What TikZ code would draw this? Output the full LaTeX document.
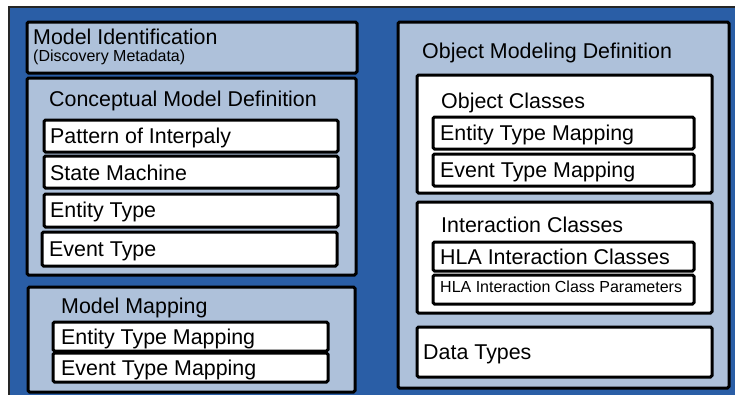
\documentclass[tikz,border=0pt]{standalone}
\usepackage{fontspec}
\setmainfont{Liberation Sans}
\definecolor{deepblue}{RGB}{42,94,166}
\definecolor{paleblue}{RGB}{174,193,218}
\begin{document}
\begin{tikzpicture}[x=1pt,y=-1pt,
  frame/.style={draw=black!85, line width=2pt, fill=deepblue},
  panel/.style={draw=black, line width=3pt, fill=paleblue, rounded corners=1.5pt},
  card/.style={draw=black, line width=3pt, fill=white, rounded corners=1.5pt},
  lbl/.style={anchor=base west, inner sep=0pt, yshift=1pt, font=\fontsize{21.4}{24}\selectfont},
  small/.style={anchor=base west, inner sep=0pt, yshift=1pt, font=\fontsize{16}{18}\selectfont}]
\useasboundingbox (0,0) rectangle (735,394);
\clip (0,0) rectangle (735,394);
\fill[white] (0,0) rectangle (735,394);
% outer frame, running off the right and bottom edges
\draw[frame] (9,7) rectangle (770,420);

% left column
\draw[panel] (27,22) rectangle (357,73);
\node[lbl] (mid) at (33,45) {Model Identification};
\node[small] (disc) at (33,62) {(Discovery Metadata)};

\draw[panel] (27,78) rectangle (356,275);
\node[lbl] (cmd) at (49,107) {Conceptual Model Definition};
\draw[card] (44,120) rectangle (338,152);
\node[lbl] (poi) at (50,144) {Pattern of Interpaly};
\draw[card] (44,156) rectangle (338,188);
\node[lbl] (sm) at (50,181) {State Machine};
\draw[card] (44,194) rectangle (338,227);
\node[lbl] (et) at (50,218) {Entity Type};
\draw[card] (42,232) rectangle (337,266);
\node[lbl] (evt) at (49,257) {Event Type};

\draw[panel] (28,287) rectangle (355,392);
\node[lbl] (mm) at (61,314) {Model Mapping};
\draw[card] (53,322) rectangle (328,351);
\node[lbl] (etm) at (61,345) {Entity Type Mapping};
\draw[card] (53,353) rectangle (328,382);
\node[lbl] (evm) at (61,376) {Event Type Mapping};

% right column
\draw[panel] (398,22) rectangle (729,388);
\node[lbl] (omd) at (422,59) {Object Modeling Definition};

\draw[card] (417,75) rectangle (712,193);
\node[lbl] (oc) at (441,109) {Object Classes};
\draw[card] (433,117) rectangle (694,149);
\node[lbl] (oetm) at (440,141) {Entity Type Mapping};
\draw[card] (433,154) rectangle (694,186);
\node[lbl] (oevm) at (440,178) {Event Type Mapping};

\draw[card] (417,202) rectangle (712,313);
\node[lbl] (ic) at (441,233) {Interaction Classes};
\draw[card] (433,242) rectangle (694,271);
\node[lbl] (hic) at (440,265) {HLA Interaction Classes};
\draw[card] (433,275) rectangle (694,304);
\node[small] (hicp) at (440,293.5) {HLA Interaction Class Parameters};

\draw[card] (417,327) rectangle (712,377);
\node[lbl] (dt) at (423,360) {Data Types};
\end{tikzpicture}
\end{document}
